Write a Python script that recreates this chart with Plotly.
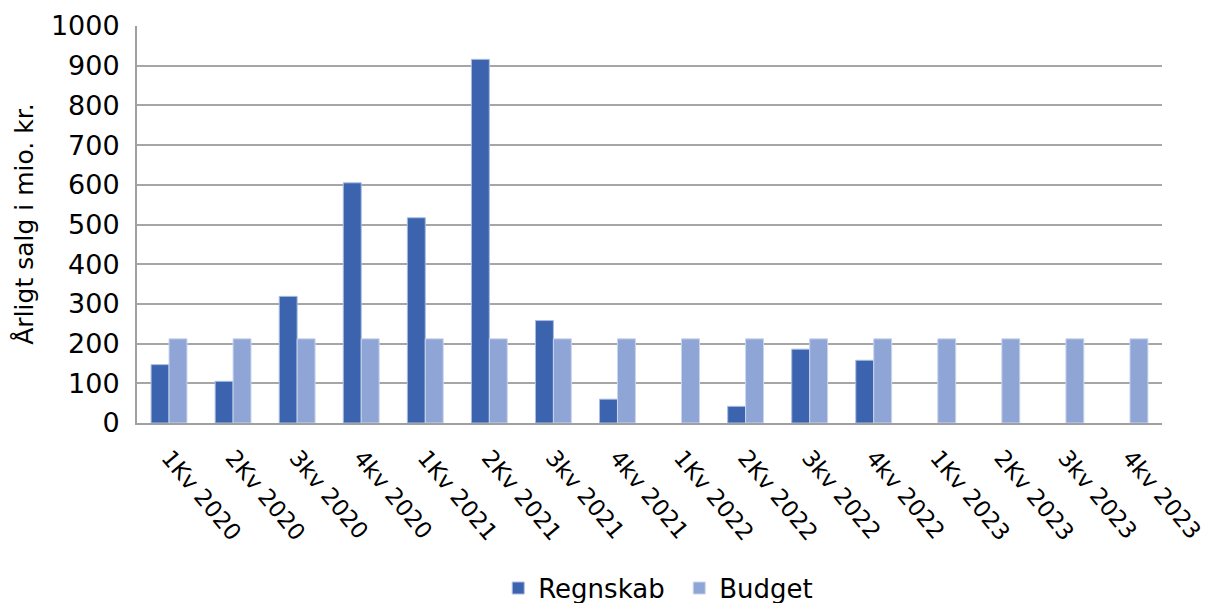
import plotly.graph_objects as go

categories = ["1Kv 2020", "2Kv 2020", "3kv 2020", "4kv 2020",
              "1Kv 2021", "2Kv 2021", "3kv 2021", "4kv 2021",
              "1Kv 2022", "2Kv 2022", "3kv 2022", "4kv 2022",
              "1Kv 2023", "2Kv 2023", "3kv 2023", "4kv 2023"]
regnskab = [147, 105, 319, 605, 517, 916, 258, 60,
            None, 42, 186, 158, None, None, None, None]
budget = [212] * 16
y_ticks = [0, 100, 200, 300, 400, 500, 600, 700, 800, 900, 1000]
y_title = "Årligt salg i mio. kr."

font_family = "DejaVu Sans, sans-serif"

fig = go.Figure()
fig.add_trace(go.Bar(x=categories, y=regnskab, name="Regnskab",
                     marker=dict(color="#3C64AE", line=dict(color="#A9BCE3", width=1))))
fig.add_trace(go.Bar(x=categories, y=budget, name="Budget",
                     marker=dict(color="#8FA5D5", line=dict(color="#C9D5EE", width=1))))

fig.update_layout(
    width=1205, height=595,
    margin=dict(l=129, r=51, t=18, b=180),
    paper_bgcolor="white", plot_bgcolor="white",
    barmode="group", bargap=0.44, bargroupgap=0,
    font=dict(family=font_family, size=24, color="#000000"),
    legend=dict(orientation="h", x=0.529, xanchor="center",
                yref="container", y=0.025, yanchor="middle",
                font=dict(size=26), itemwidth=30, traceorder="normal",
                entrywidth=136, entrywidthmode="pixels"),
    showlegend=True,
    annotations=[dict(text=y_title, xref="paper", yref="paper",
                      x=-0.110, y=0.5, xanchor="center", yanchor="middle",
                      textangle=-90, showarrow=False, font=dict(size=25))],
)
fig.update_xaxes(tickangle=50, showline=True, linecolor="#A0A0A0", linewidth=2,
                 ticks="", tickfont=dict(size=23), automargin=False,
                 ticklabelstandoff=10)
fig.update_yaxes(range=[0, 1000], tickvals=y_ticks, showgrid=True, gridcolor="#A6A6A6",
                 gridwidth=2, showline=True, linecolor="#A0A0A0", linewidth=2,
                 ticks="", tickfont=dict(size=27), zeroline=False, automargin=False,
                 ticklabelstandoff=10)

fig.write_html("out.html")
